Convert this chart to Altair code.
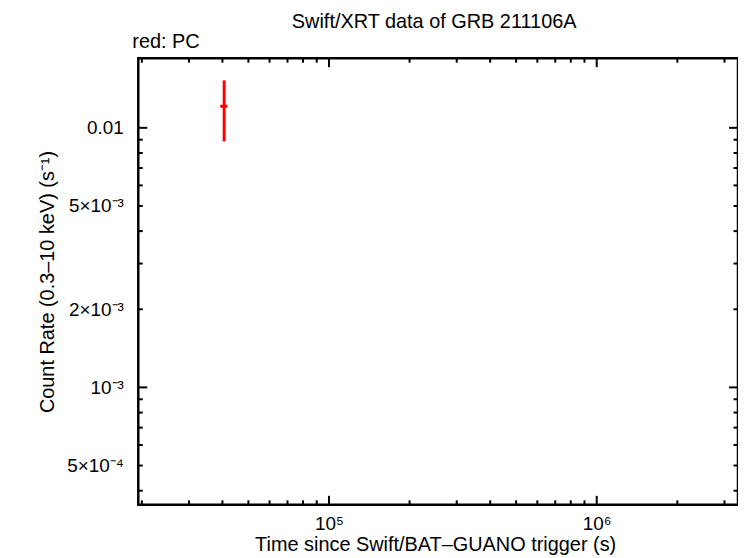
import altair as alt
import pandas as pd

# ---- data ----
time = [40600.0]
time_lo = [39250.0]
time_hi = [41770.0]
rate = [0.01211]
rate_lo = [0.00886]
rate_hi = [0.01523]

x_domain = [1.94e4, 3.37e6]
y_domain = [3.53e-4, 0.01854]

x_label_values = [1e5, 1e6]
x_label_texts = ["10⁵", "10⁶"]
y_label_values = [0.01, 0.005, 0.002, 0.001, 0.0005]
y_label_texts = ["0.01", "5×10⁻³", "2×10⁻³", "10⁻³", "5×10⁻⁴"]

x_major = [1e5, 1e6]
x_minor = [2e4, 3e4, 4e4, 5e4, 6e4, 7e4, 8e4, 9e4,
           2e5, 3e5, 4e5, 5e5, 6e5, 7e5, 8e5, 9e5,
           2e6, 3e6]
y_major = [1e-3, 1e-2]
y_minor = [4e-4, 5e-4, 6e-4, 7e-4, 8e-4, 9e-4,
           2e-3, 3e-3, 4e-3, 5e-3, 6e-3, 7e-3, 8e-3, 9e-3]

chart_title = ["Swift/XRT data of GRB 211106A"]
legend_note = ["red: PC"]
x_title = "Time since Swift/BAT–GUANO trigger (s)"
y_title = "Count Rate (0.3–10 keV) (s⁻¹)"

# ---- layout / style ----
W, H = 603, 449
FONT = "Liberation Sans"
FS = 20
LFS = 19
MAJ, MIN = 9, 4.5


def label_expr(values, texts):
    expr = "''"
    for v, t in zip(values, texts):
        expr = f"(abs(datum.value - {v!r}) < {v * 1e-3!r}) ? '{t}' : ({expr})"
    return expr


xs = alt.Scale(type="log", domain=x_domain, nice=False)
ys = alt.Scale(type="log", domain=y_domain, nice=False)

x_axis = alt.Axis(values=x_label_values, labelExpr=label_expr(x_label_values, x_label_texts),
                  ticks=False, tickSize=0, domain=False, grid=False,
                  labelFont=FONT, labelFontSize=LFS, labelColor="black",
                  labelPadding=25, labelBaseline="alphabetic", labelOverlap=False, labelFlush=False,
                  title=x_title, titleFont=FONT, titleFontSize=FS, titleFontWeight="normal",
                  titleColor="black", titleBaseline="alphabetic", titleX=W / 2 - 3, titleY=46)
y_axis = alt.Axis(values=y_label_values, labelExpr=label_expr(y_label_values, y_label_texts),
                  ticks=False, tickSize=0, domain=False, grid=False,
                  labelFont=FONT, labelFontSize=LFS, labelColor="black",
                  labelPadding=15, labelBaseline="middle", labelOverlap=False, labelFlush=False,
                  title=y_title, titleFont=FONT, titleFontSize=FS, titleFontWeight="normal",
                  titleColor="black", titleBaseline="alphabetic", titleX=-85)


def X(field):
    return alt.X(field, type="quantitative", scale=xs, axis=x_axis)


def Y(field):
    return alt.Y(field, type="quantitative", scale=ys, axis=y_axis)


df = pd.DataFrame({"time": time, "time_lo": time_lo, "time_hi": time_hi,
                   "rate": rate, "rate_lo": rate_lo, "rate_hi": rate_hi})

red = "#ff0000"
err_v = alt.Chart(df).mark_rule(color=red, strokeWidth=3).encode(
    x=X("time"), y=Y("rate_lo"), y2="rate_hi")
err_h = alt.Chart(df).mark_rule(color=red, strokeWidth=3).encode(
    x=X("time_lo"), x2="time_hi", y=Y("rate"))

layers = [err_v, err_h]

for vals, ln in ((x_major, MAJ), (x_minor, MIN)):
    d = pd.DataFrame({"v": vals})
    layers.append(alt.Chart(d).mark_rule(color="black", strokeWidth=2).encode(
        x=X("v"), y=alt.value(H), y2=alt.value(H - ln)))
    layers.append(alt.Chart(d).mark_rule(color="black", strokeWidth=2).encode(
        x=X("v"), y=alt.value(0), y2=alt.value(ln)))

for vals, ln in ((y_major, MAJ), (y_minor, MIN)):
    d = pd.DataFrame({"v": vals})
    layers.append(alt.Chart(d).mark_rule(color="black", strokeWidth=2).encode(
        y=Y("v"), x=alt.value(0), x2=alt.value(ln)))
    layers.append(alt.Chart(d).mark_rule(color="black", strokeWidth=2).encode(
        y=Y("v"), x=alt.value(W), x2=alt.value(W - ln)))

title_layer = alt.Chart(pd.DataFrame({"t": chart_title})).mark_text(
    align="center", baseline="alphabetic", font=FONT, fontSize=FS, color="black").encode(
    text="t:N", x=alt.value(W / 2 - 4), y=alt.value(-30))
note_layer = alt.Chart(pd.DataFrame({"t": legend_note})).mark_text(
    align="left", baseline="alphabetic", font=FONT, fontSize=FS, color="black").encode(
    text="t:N", x=alt.value(-6), y=alt.value(-10))
layers += [title_layer, note_layer]

chart = alt.layer(*layers).properties(
    width=W, height=H,
    autosize=alt.AutoSizeParams(type="none"),
    padding={"left": 131, "top": 49, "right": 0, "bottom": 52},
).configure_view(stroke="black", strokeWidth=2.5)

chart.save("out.html", embed_options={"renderer": "svg", "actions": False})
